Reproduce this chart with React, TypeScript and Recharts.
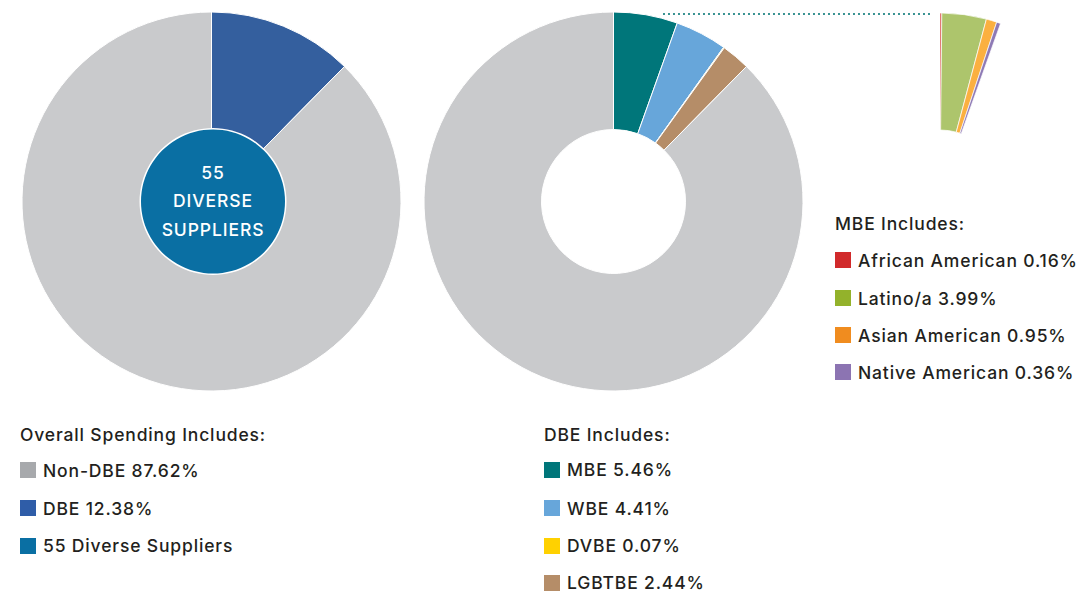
import React from "react";
import { PieChart, Pie, Cell } from "recharts";

const overallNames = ["DBE", "Non-DBE"];
const overallValues = [12.38, 87.62];
const overallColors = ["#345F9E", "#C9CACC"];

const dbeNames = ["MBE", "WBE", "DVBE", "LGBTBE", "Non-DBE"];
const dbeValues = [5.46, 4.41, 0.07, 2.44, 87.62];
const dbeColors = ["#00767A", "#67A6DA", "#FFD100", "#B58D68", "#C9CACC"];

const mbeNames = ["African American", "Latino/a", "Asian American", "Native American"];
const mbeValues = [0.16, 3.99, 0.95, 0.36];
const mbeColors = ["#D42F2B", "#ADC56C", "#FBB040", "#8E7AB5"];

const supplierCount = 55;
const centerLines = ["55", "DIVERSE", "SUPPLIERS"];

const overallLegendLabels = ["Non-DBE 87.62%", "DBE 12.38%", "55 Diverse Suppliers"];
const overallLegendColors = ["#A7A9AC", "#2F5DA8", "#0A6FA3"];
const dbeLegendLabels = ["MBE 5.46%", "WBE 4.41%", "DVBE 0.07%", "LGBTBE 2.44%"];
const dbeLegendColors = ["#00767A", "#67A6DA", "#FFD100", "#B58D68"];
const mbeLegendLabels = ["African American 0.16%", "Latino/a 3.99%", "Asian American 0.95%", "Native American 0.36%"];
const mbeLegendColors = ["#D12A2B", "#93B22B", "#F08C1F", "#8C74B2"];

const overallData = overallNames.map((n, i) => ({ name: n, value: overallValues[i] }));
const dbeData = dbeNames.map((n, i) => ({ name: n, value: dbeValues[i] }));
const mbeData = mbeNames.map((n, i) => ({ name: n, value: mbeValues[i] }));
const centerData = [{ name: "Diverse Suppliers", value: supplierCount }];

const mbeShare = dbeValues[0];
const FONT = "Inter, 'Open Sans', 'DejaVu Sans', sans-serif";
const TEXT = "#231F20";
const textStyle: any = { fontSize: 17.5, fontWeight: 500, color: TEXT, fontFamily: FONT, letterSpacing: 0.85, whiteSpace: "nowrap" };

function LegendBlock({ left, titleY, rowYs, title, labels, colors }: any) {
  return (
    <>
      <div style={{ ...textStyle, position: "absolute", left, top: titleY - 9.5, height: 20, lineHeight: "20px" }}>{title}</div>
      {labels.map((l: string, i: number) => (
        <div key={l} style={{ position: "absolute", left, top: rowYs[i] - 10, height: 20, display: "flex", alignItems: "center", whiteSpace: "nowrap" }}>
          <div style={{ width: 16, height: 16, background: colors[i], marginRight: 7, flex: "none" }} />
          <span style={{ ...textStyle, lineHeight: "20px", position: "relative", top: 0.5 }}>{l}</span>
        </div>
      ))}
    </>
  );
}

export default function App() {
  return (
    <div style={{ position: "absolute", left: 0, top: 0, width: 1081, height: 593, background: "#fff", overflow: "hidden" }}>
      <PieChart width={1081} height={593} margin={{ top: 0, right: 0, bottom: 0, left: 0 }}>
        <Pie data={overallData} dataKey="value" cx={211.5} cy={201.5} innerRadius={0} outerRadius={189.5} startAngle={90} endAngle={-270} stroke="#fff" strokeWidth={1} isAnimationActive={false}>
          {overallData.map((d, i) => <Cell key={d.name} fill={overallColors[i]} />)}
        </Pie>
        <Pie data={centerData} dataKey="value" cx={213} cy={201.5} innerRadius={0} outerRadius={73.5} startAngle={90} endAngle={-270} stroke="none" fill="#ffffff" isAnimationActive={false} />
        <Pie data={centerData} dataKey="value" cx={213} cy={201.5} innerRadius={0} outerRadius={72} startAngle={90} endAngle={-270} stroke="none" fill="#0A6FA3" isAnimationActive={false} />
        <Pie data={dbeData} dataKey="value" cx={613.5} cy={201.5} innerRadius={72} outerRadius={189.5} startAngle={90} endAngle={-270} stroke="#fff" strokeWidth={1} isAnimationActive={false}>
          {dbeData.map((d, i) => <Cell key={d.name} fill={dbeColors[i]} />)}
        </Pie>
        <Pie data={mbeData} dataKey="value" cx={940} cy={193} innerRadius={63} outerRadius={180} startAngle={90} endAngle={90 - mbeShare * 3.6} stroke="#fff" strokeWidth={0.7} isAnimationActive={false}>
          {mbeData.map((d, i) => <Cell key={d.name} fill={mbeColors[i]} />)}
        </Pie>
      </PieChart>
      <svg width={1081} height={593} style={{ position: "absolute", left: 0, top: 0, pointerEvents: "none" }}>
        <line x1={664} y1={14} x2={934} y2={14} stroke="#0E7C7B" strokeWidth={2.2} strokeDasharray="0 5" strokeLinecap="round" />
      </svg>
      <div style={{ position: "absolute", left: 133, top: 158.5, width: 160, textAlign: "center", color: "#fff", fontFamily: FONT, fontSize: 17.5, fontWeight: 500, lineHeight: "28.5px", letterSpacing: 0.9 }}>
        {centerLines.map((l) => <div key={l}>{l}</div>)}
      </div>
      <LegendBlock left={20} titleY={434.5} rowYs={[470, 508, 545.5]} title="Overall Spending Includes:" labels={overallLegendLabels} colors={overallLegendColors} />
      <LegendBlock left={544} titleY={434} rowYs={[469.7, 508, 545.5, 582.5]} title="DBE Includes:" labels={dbeLegendLabels} colors={dbeLegendColors} />
      <LegendBlock left={835} titleY={223} rowYs={[260, 298, 335, 372]} title="MBE Includes:" labels={mbeLegendLabels} colors={mbeLegendColors} />
    </div>
  );
}
